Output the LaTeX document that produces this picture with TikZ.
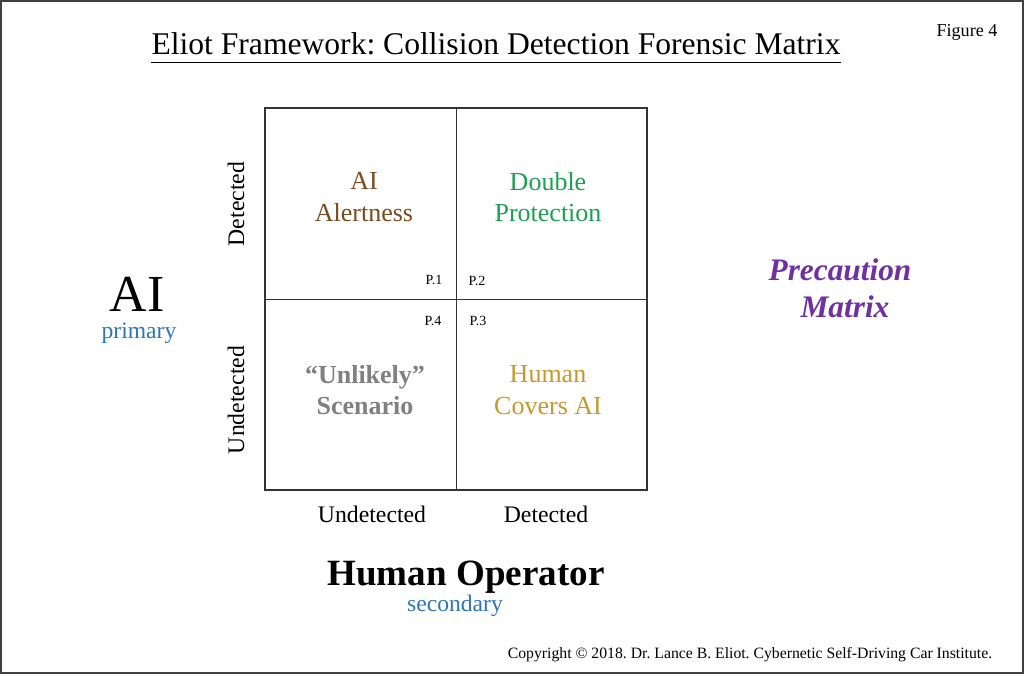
\documentclass[tikz,border=0pt]{standalone}
\usepackage{fontspec}
\setmainfont{Liberation Serif}
\usepackage{tikz}
\frenchspacing
\definecolor{alertbrown}{HTML}{7B4A1E}
\definecolor{doublegreen}{HTML}{1DA052}
\definecolor{coversgold}{HTML}{C49A2C}
\definecolor{unlikelygrey}{HTML}{808080}
\definecolor{rolblue}{HTML}{2E75B6}
\definecolor{matrixpurple}{HTML}{7030A0}
\begin{document}
\begin{tikzpicture}[x=0.75pt, y=-0.75pt,
  cell/.style={align=center, font=\fontsize{19.5}{23.5}\selectfont},
  plabel/.style={font=\fontsize{10.5}{12}\selectfont},
  axis/.style={font=\fontsize{17.8}{20}\selectfont},
  role/.style={font=\fontsize{17.7}{20}\selectfont, text=rolblue, inner sep=1pt}]
\useasboundingbox (0,0) rectangle (1024,674);
\draw[black!75, line width=1.5pt](1,1) rectangle (1023,673);
% title
\node[inner sep=0, anchor=base, font=\fontsize{23.7}{28}\selectfont] (title) at (496,55) {Eliot Framework: Collision Detection Forensic Matrix};
\draw[black, line width=0.8pt]([yshift=-5.5pt]title.base west)--([yshift=-5.5pt]title.base east);
\node[anchor=base, font=\fontsize{13.6}{16}\selectfont] (fig) at (967,37) {Figure 4};
% matrix
\draw[black!80, line width=1.1pt](265,108) rectangle (647,490);
\draw[black!80, line width=0.6pt](456,108)--(456,490);
\draw[black!80, line width=0.6pt](265,299)--(647,299);
\node[cell, text=alertbrown] (alert) at (364,197) {AI\\Alertness};
\node[cell, text=doublegreen] (double) at (548,197) {Double\\Protection};
\node[cell, text=unlikelygrey, font=\fontsize{19.5}{23.5}\selectfont\bfseries] (unlikely) at (365,390) {“Unlikely”\\Scenario};
\node[cell, text=coversgold] (covers) at (548,390) {Human\\Covers AI};
\foreach \n/\x/\y in {1/434/280, 2/477/281, 4/433/321, 3/478/321}{
	\node[plabel] (p\n) at (\x,\y) {P.\n};
}
% axes
\node[axis, rotate=90] (aidet) at (236,204) {Detected};
\node[axis, rotate=90] (aiundet) at (236,400) {Undetected};
\node[axis] (humundet) at (372,514) {Undetected};
\node[axis] (humdet) at (546,514) {Detected};
\node[font=\fontsize{39}{44}\selectfont, inner sep=0, text depth=0pt, anchor=base] (ai) at (137,311) {AI};
\node[role] (primary) at (139,333) {primary};
\node[font=\fontsize{27.8}{32}\selectfont\bfseries, inner sep=1pt] (human) at (466,577) {Human Operator};
\node[role] (secondary) at (455,606) {secondary};
\node[font=\fontsize{23.5}{28}\selectfont\bfseries\itshape, text=matrixpurple] (prec) at (840,270) {Precaution};
\node[font=\fontsize{23.5}{28}\selectfont\bfseries\itshape, text=matrixpurple] (precmat) at (845,307) {Matrix};
\node[font=\fontsize{11.8}{14}\selectfont] (copy) at (750,655) {Copyright © 2018. Dr. Lance B. Eliot. Cybernetic Self-Driving Car Institute.};
\end{tikzpicture}
\end{document}
